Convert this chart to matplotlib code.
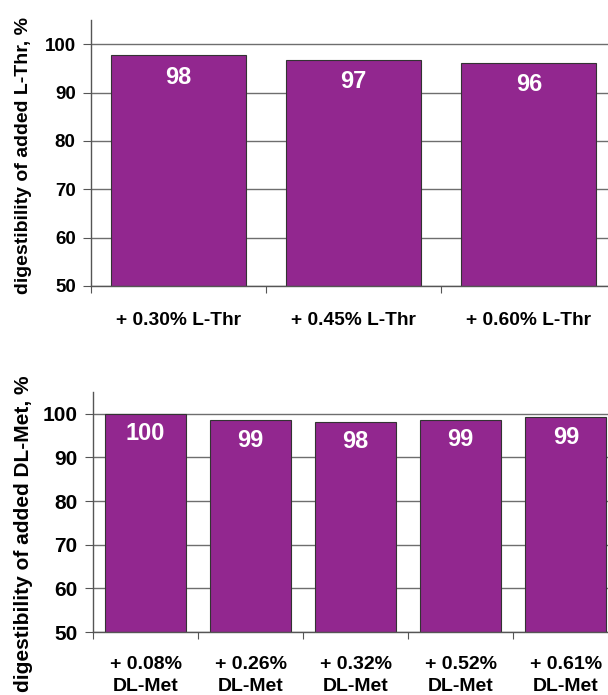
import matplotlib
matplotlib.use("Agg")
import matplotlib.pyplot as plt
import numpy as np

# top panel: L-Thr
thr_labels = ["+ 0.30% L-Thr", "+ 0.45% L-Thr", "+ 0.60% L-Thr"]
thr_values = [97.8, 96.8, 96.2]
thr_text = ["98", "97", "96"]

# bottom panel: DL-Met
met_labels = ["+ 0.08%\nDL-Met", "+ 0.26%\nDL-Met", "+ 0.32%\nDL-Met",
              "+ 0.52%\nDL-Met", "+ 0.61%\nDL-Met"]
met_values = [100.0, 98.5, 98.2, 98.6, 99.2]
met_text = ["100", "99", "98", "99", "99"]

yticks = [50, 60, 70, 80, 90, 100]

BAR = "#92278f"
plt.rcParams["font.family"] = ["Liberation Sans", "DejaVu Sans"]
plt.rcParams["font.weight"] = "bold"

fig = plt.figure(figsize=(6.08, 6.95), dpi=100)
ax1 = fig.add_axes([0.1497, 0.5885, 0.864, 0.3827])
ax2 = fig.add_axes([0.153, 0.0906, 0.864, 0.3454])


def draw(ax, labels, values, texts, ylabel, fs_tick, fs_x, fs_bar, xpad, fs_y):
    x = np.arange(len(values))
    ax.set_axisbelow(True)
    ax.yaxis.grid(True, color="#6e6e6e", lw=1.0)
    ax.bar(x, [v - 50 for v in values], bottom=50, width=0.77, color=BAR,
           edgecolor="#333333", linewidth=0.8, zorder=2)
    for xi, v, t in zip(x, values, texts):
        ax.text(xi, v - 4.6, t, ha="center", va="center", color="white",
                fontsize=fs_bar, fontweight="bold", zorder=3)
    ax.set_xlim(-0.5, len(values) - 0.5)
    ax.set_ylim(50, 105)
    ax.set_yticks(yticks)
    ax.set_yticklabels([str(t) for t in yticks], fontsize=fs_tick, fontweight="bold")
    ax.set_xticks(x)
    ax.set_xticklabels(labels, fontsize=fs_x, fontweight="bold", linespacing=1.4)
    ax.set_xticks(np.arange(len(values)) - 0.5, minor=True)
    ax.tick_params(axis="x", which="major", length=0, pad=xpad)
    ax.tick_params(axis="x", which="minor", length=5, color="#555555", width=0.8)
    ax.tick_params(axis="y", length=6, color="#555555", width=0.8, pad=5)
    for s in ("top", "right"):
        ax.spines[s].set_visible(False)
    for s in ("left", "bottom"):
        ax.spines[s].set_color("#555555")
        ax.spines[s].set_linewidth(1.0)
    ax.set_ylabel(ylabel, fontsize=fs_y, fontweight="bold")


draw(ax1, thr_labels, thr_values, thr_text, "digestibility of added L-Thr, %",
     13.5, 13.8, 17, 19, 14)
draw(ax2, met_labels, met_values, met_text, "digestibility of added DL-Met, %",
     15, 14, 17, 17, 15)
ax1.yaxis.set_label_coords(-0.112, 0.49)
ax2.yaxis.set_label_coords(-0.114, 0.41)

fig.savefig("out.png", dpi=100)
